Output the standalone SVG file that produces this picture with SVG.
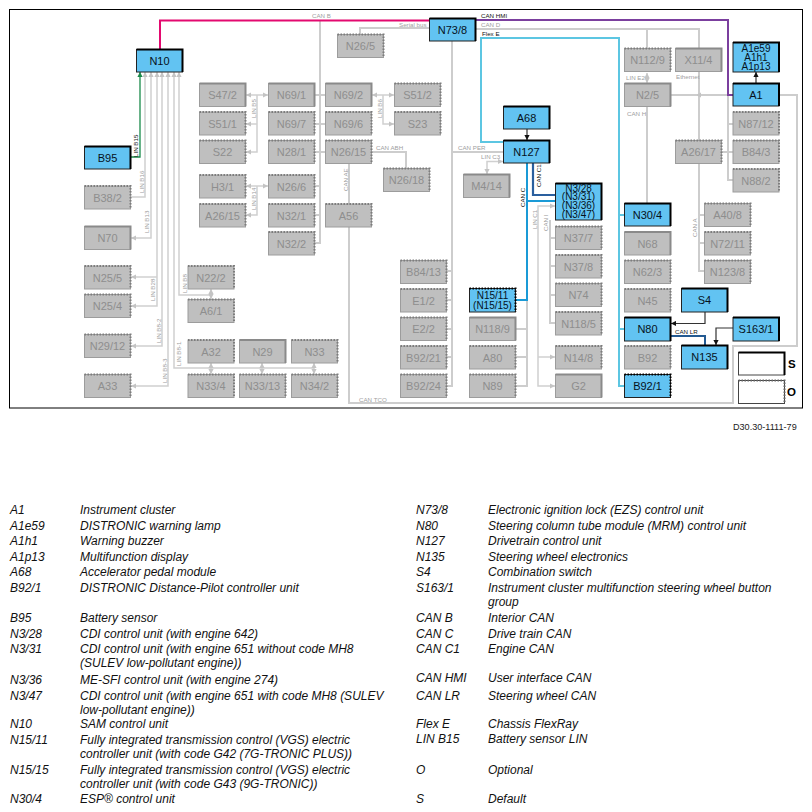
<svg xmlns="http://www.w3.org/2000/svg" width="812" height="812" viewBox="0 0 812 812">
<style>
text{font-family:"Liberation Sans",Arial,sans-serif}
.g rect{fill:#bfbfbf;stroke:#9c9c9c;stroke-width:1}
.g text{fill:#8e8e8e;font-size:11px;text-anchor:middle}
.g path{fill:none;stroke:#8a8a8a;stroke-width:2}
.d path{stroke-dasharray:1.5 1.5;stroke:#7d7d7d}
.b rect{fill:#62c3f2;stroke:#222;stroke-width:1}
.b text{fill:#06121c;font-size:11px;text-anchor:middle}
.b path{fill:none;stroke:#000;stroke-width:2}
.b.d path{stroke-dasharray:1.5 1.5;stroke:#000}
.b text.s{font-size:10px}
.l{font-size:6.2px;fill:#a0a0a0}
.k{font-size:6.2px;fill:#111}
.c{fill:none;stroke:#cdcdcd;stroke-width:2}
.t{fill:none;stroke:#d0d0d0;stroke-width:1.500}
.a{fill:none;stroke:#333;stroke-width:1.200}
.leg{font-size:12px;font-style:italic;fill:#111}
</style>
<defs>
<marker id="ga" markerUnits="userSpaceOnUse" markerWidth="6" markerHeight="6" refX="5" refY="3" orient="auto-start-reverse"><path d="M0 .4L5 3L0 5.6z" fill="#c4c4c4"/></marker>
<marker id="ka" markerUnits="userSpaceOnUse" markerWidth="6" markerHeight="6" refX="5" refY="3" orient="auto-start-reverse"><path d="M0 .4L5 3L0 5.6z" fill="#111"/></marker>
<marker id="gr" markerUnits="userSpaceOnUse" markerWidth="6" markerHeight="6" refX="5" refY="3" orient="auto-start-reverse"><path d="M0 .4L5 3L0 5.6z" fill="#1a8a4a"/></marker>
</defs>
<rect x="9.500" y="9.500" width="793" height="398.500" fill="#fff" stroke="#000" stroke-width="1"/>
<g id="connectors">
<path class="c" d="M320 20V243H315M315 95H325M315 124H325M315 152H325M315 186H320M315 215H320"/>
<path class="c" d="M429 28H360V34"/>
<path class="c" d="M475 29H699V140M647 29V48"/>
<path class="c" d="M699 164V271H704M699 215H704M699 243H704"/>
<path class="c" d="M647 107V203"/>
<path class="c" d="M728 95V180H733M728 124H733M722 152H733"/>
<path class="c" d="M779 95H797V346H733V403H349V227"/>
<path class="c" d="M349 164V204"/>
<path class="c" d="M372 152H406V168"/>
<path class="c" d="M452 41V386H447M447 271H452M447 300H452M447 329H452M447 357H452M452 152H503"/>
<path class="c" d="M527 300V386H516M516 329H527M516 357H527"/>
<path class="c" d="M550 220V323H555M550 238H555M550 266H555M550 295H555"/>
<path class="c" d="M671 95H733"/>
<path class="t" d="M696 95H697" marker-start="url(#ga)"/>
<path class="t" d="M503 161.500H487V174" marker-start="url(#ga)" marker-end="url(#ga)"/>
<path class="t" d="M555 206H538V386H555" marker-start="url(#ga)" marker-end="url(#ga)"/>
<path class="t" d="M538 357H555" marker-end="url(#ga)"/>
<path class="t" d="M647 73V83" marker-start="url(#ga)" marker-end="url(#ga)"/>
<path class="t" d="M145 72V197H131" marker-start="url(#ga)"/>
<path class="t" d="M151 72V238H131" marker-start="url(#ga)" marker-end="url(#ga)"/>
<path class="t" d="M157 72V306H131" marker-start="url(#ga)" marker-end="url(#ga)"/>
<path class="t" d="M157 277H131" marker-end="url(#ga)"/>
<path class="t" d="M162 72V346H131" marker-start="url(#ga)" marker-end="url(#ga)"/>
<path class="t" d="M168 72V386H131" marker-start="url(#ga)" marker-end="url(#ga)"/>
<path class="t" d="M174 72V368H314" marker-start="url(#ga)"/>
<path class="t" d="M179 72V295H211" marker-start="url(#ga)"/>
<path class="t" d="M211 289V299" marker-start="url(#ga)" marker-end="url(#ga)"/>
<path class="t" d="M211 363V374" marker-start="url(#ga)" marker-end="url(#ga)"/>
<path class="t" d="M262 363V374" marker-start="url(#ga)" marker-end="url(#ga)"/>
<path class="t" d="M314 363V374" marker-start="url(#ga)" marker-end="url(#ga)"/>
<path class="t" d="M246 95H268" marker-start="url(#ga)" marker-end="url(#ga)"/>
<path class="t" d="M257 95V152H246" marker-end="url(#ga)"/>
<path class="t" d="M257 124H246" marker-end="url(#ga)"/>
<path class="t" d="M246 186H268" marker-start="url(#ga)" marker-end="url(#ga)"/>
<path class="t" d="M257 186V215H246" marker-end="url(#ga)"/>
<path class="t" d="M372 95H394" marker-start="url(#ga)" marker-end="url(#ga)"/>
<path class="t" d="M383 95V124H394" marker-end="url(#ga)"/>
<path d="M160 49V20.500H429" fill="none" stroke="#e3096f" stroke-width="2"/>
<path d="M475 20H728V95H733" fill="none" stroke="#7b3f9e" stroke-width="2"/>
<path d="M503 142H481V38H619V386H624M619 215H624M619 329H624" fill="none" stroke="#5cc6e2" stroke-width="2"/>
<path d="M527 163V300H516M527 201H555" fill="none" stroke="#1a9ad6" stroke-width="2"/>
<path d="M533 163V195H555" fill="none" stroke="#2a5f9e" stroke-width="2.200"/>
<path d="M671 336H705V345" fill="none" stroke="#235a92" stroke-width="2"/>
<path d="M131 157H140V72" fill="none" stroke="#1a8a4a" stroke-width="1.300" marker-end="url(#gr)"/>
<path class="a" d="M705 312V323.500H671" marker-end="url(#ka)"/>
<path class="a" d="M733 328H716V345" marker-end="url(#ka)"/>
<path class="a" d="M756 83V72" marker-end="url(#ka)"/>
<path class="a" d="M527 129V140" marker-end="url(#ka)"/>
</g>
<g id="connector-labels">
<text class="l" x="312" y="18">CAN B</text>
<text class="l" x="399" y="27">Serial bus</text>
<text class="k" x="481" y="18">CAN HMI</text>
<text class="l" x="481" y="27">CAN D</text>
<text class="k" x="482" y="36">Flex E</text>
<text class="l" x="376" y="149.500">CAN ABH</text>
<text class="l" x="458" y="150">CAN PER</text>
<text class="l" x="481" y="159">LIN C3</text>
<text class="l" x="626" y="79.500">LIN E2</text>
<text class="l" x="627" y="115.500">CAN H</text>
<text class="l" x="676" y="79">Ethernet</text>
<text class="l" x="359" y="401.500">CAN TCO</text>
<text class="k" x="675" y="334">CAN LR</text>
<text class="k" transform="translate(137.500 157) rotate(-90)">LIN B15</text>
<text class="l" transform="translate(143.500 193) rotate(-90)">LIN B16</text>
<text class="l" transform="translate(149 233) rotate(-90)">LIN B13</text>
<text class="l" transform="translate(155 301) rotate(-90)">LIN B28</text>
<text class="l" transform="translate(160.500 343) rotate(-90)">LIN B8-2</text>
<text class="l" transform="translate(166.500 383) rotate(-90)">LIN B8-3</text>
<text class="l" transform="translate(181 366) rotate(-90)">LIN B8-1</text>
<text class="l" transform="translate(186.500 293) rotate(-90)">LIN B8</text>
<text class="l" transform="translate(255.500 118) rotate(-90)">LIN B5</text>
<text class="l" transform="translate(255.500 210) rotate(-90)">LIN B14</text>
<text class="l" transform="translate(381.500 118) rotate(-90)">LIN B6</text>
<text class="l" transform="translate(347.500 191) rotate(-90)">CAN AE</text>
<text class="k" transform="translate(525 207) rotate(-90)">CAN C</text>
<text class="k" transform="translate(540.500 187) rotate(-90)">CAN C1</text>
<text class="l" transform="translate(537 229) rotate(-90)">LIN C1</text>
<text class="l" transform="translate(548 231) rotate(-90)">CAN I</text>
<text class="l" transform="translate(697 237) rotate(-90)">CAN A</text>
</g>
<g id="N10" class="b"><rect x="136.500" y="49.500" width="46" height="22.500"/><path d="M136.500 49.500H182.500V72"/><text x="159.500" y="65">N10</text></g>
<g id="N73-8" class="b"><rect x="429.500" y="18.500" width="46" height="22.500"/><path d="M429.500 18.500H475.500V41"/><text x="452.500" y="34">N73/8</text></g>
<g id="B95" class="b"><rect x="84.500" y="146.500" width="46" height="22.500"/><path d="M84.500 146.500H130.500V169"/><text x="107.500" y="162">B95</text></g>
<g id="A68" class="b"><rect x="503.500" y="106.500" width="46" height="22.500"/><path d="M503.500 106.500H549.500V129"/><text x="526.500" y="122">A68</text></g>
<g id="N127" class="b"><rect x="503.500" y="140.500" width="46" height="22.500"/><path d="M503.500 140.500H549.500V163"/><text x="526.500" y="156">N127</text></g>
<g id="A1e59" class="b"><rect x="733" y="42.500" width="46" height="29.500"/><path d="M733 42.500H779V72"/><text class="s" x="756" y="51.500">A1e59</text><text class="s" x="756" y="60.500">A1h1</text><text class="s" x="756" y="69.500">A1p13</text></g>
<g id="A1" class="b"><rect x="733" y="83.500" width="46" height="22.500"/><path d="M733 83.500H779V106"/><text x="756" y="99">A1</text></g>
<g id="N3-28" class="b"><rect x="555.500" y="183.500" width="46" height="36.500"/><path d="M555.500 183.500H601.500V220"/><text class="s" x="578.500" y="191.500">N3/28</text><text class="s" x="578.500" y="200.200">(N3/31)</text><text class="s" x="578.500" y="208.900">(N3/36)</text><text class="s" x="578.500" y="217.600">(N3/47)</text></g>
<g id="N15-11" class="b d"><rect x="469.500" y="288.500" width="46" height="23.500"/><path d="M469.500 288.500H515.500V312"/><text class="s" x="492.500" y="299">N15/11</text><text class="s" x="492.500" y="309">(N15/15)</text></g>
<g id="N30-4" class="b"><rect x="624.500" y="203.500" width="46" height="22.500"/><path d="M624.500 203.500H670.500V226"/><text x="647.500" y="219">N30/4</text></g>
<g id="N80" class="b"><rect x="624.500" y="317.500" width="46" height="23.500"/><path d="M624.500 317.500H670.500V341"/><text x="647.500" y="333">N80</text></g>
<g id="B92-1" class="b d"><rect x="624.500" y="374.500" width="46" height="23"/><path d="M624.500 374.500H670.500V397.500"/><text x="647.500" y="390">B92/1</text></g>
<g id="S4" class="b"><rect x="681.500" y="288.500" width="46" height="23.500"/><path d="M681.500 288.500H727.500V312"/><text x="704.500" y="304">S4</text></g>
<g id="S163-1" class="b"><rect x="733" y="317.500" width="46" height="23.500"/><path d="M733 317.500H779V341"/><text x="756" y="333">S163/1</text></g>
<g id="N135" class="b"><rect x="681.500" y="345.500" width="46" height="23.500"/><path d="M681.500 345.500H727.500V369"/><text x="704.500" y="361">N135</text></g>
<g id="S47-2" class="g"><rect x="199.500" y="83.500" width="46" height="23"/><path d="M199.500 83.500H245.500V106.500"/><text x="222.500" y="99">S47/2</text></g>
<g id="S51-1" class="g d"><rect x="199.500" y="112" width="46" height="23"/><path d="M199.500 112H245.500V135"/><text x="222.500" y="127.500">S51/1</text></g>
<g id="S22" class="g d"><rect x="199.500" y="140.500" width="46" height="23"/><path d="M199.500 140.500H245.500V163.500"/><text x="222.500" y="156">S22</text></g>
<g id="H3-1" class="g d"><rect x="199.500" y="175" width="46" height="23"/><path d="M199.500 175H245.500V198"/><text x="222.500" y="190.500">H3/1</text></g>
<g id="A26-15" class="g d"><rect x="199.500" y="204" width="46" height="23"/><path d="M199.500 204H245.500V227"/><text x="222.500" y="219.500">A26/15</text></g>
<g id="N69-1" class="g"><rect x="268.500" y="83.500" width="46" height="23"/><path d="M268.500 83.500H314.500V106.500"/><text x="291.500" y="99">N69/1</text></g>
<g id="N69-7" class="g d"><rect x="268.500" y="112" width="46" height="23"/><path d="M268.500 112H314.500V135"/><text x="291.500" y="127.500">N69/7</text></g>
<g id="N28-1" class="g d"><rect x="268.500" y="140.500" width="46" height="23"/><path d="M268.500 140.500H314.500V163.500"/><text x="291.500" y="156">N28/1</text></g>
<g id="N26-6" class="g d"><rect x="268.500" y="175" width="46" height="23"/><path d="M268.500 175H314.500V198"/><text x="291.500" y="190.500">N26/6</text></g>
<g id="N32-1" class="g d"><rect x="268.500" y="204" width="46" height="23"/><path d="M268.500 204H314.500V227"/><text x="291.500" y="219.500">N32/1</text></g>
<g id="N32-2" class="g d"><rect x="268.500" y="232" width="46" height="23"/><path d="M268.500 232H314.500V255"/><text x="291.500" y="247.500">N32/2</text></g>
<g id="N69-2" class="g"><rect x="325.500" y="83.500" width="46" height="23"/><path d="M325.500 83.500H371.500V106.500"/><text x="348.500" y="99">N69/2</text></g>
<g id="N69-6" class="g d"><rect x="325.500" y="112" width="46" height="23"/><path d="M325.500 112H371.500V135"/><text x="348.500" y="127.500">N69/6</text></g>
<g id="N26-15" class="g d"><rect x="325.500" y="140.500" width="46" height="23"/><path d="M325.500 140.500H371.500V163.500"/><text x="348.500" y="156">N26/15</text></g>
<g id="A56" class="g d"><rect x="325.500" y="204" width="46" height="23"/><path d="M325.500 204H371.500V227"/><text x="348.500" y="219.500">A56</text></g>
<g id="S51-2" class="g d"><rect x="394.500" y="83.500" width="46" height="23"/><path d="M394.500 83.500H440.500V106.500"/><text x="417.500" y="99">S51/2</text></g>
<g id="S23" class="g d"><rect x="394.500" y="112" width="46" height="23"/><path d="M394.500 112H440.500V135"/><text x="417.500" y="127.500">S23</text></g>
<g id="N26-18" class="g d"><rect x="383.500" y="168.500" width="46" height="23"/><path d="M383.500 168.500H429.500V191.500"/><text x="406.500" y="184">N26/18</text></g>
<g id="N26-5" class="g d"><rect x="337.500" y="34.500" width="46" height="23"/><path d="M337.500 34.500H383.500V57.500"/><text x="360.500" y="50">N26/5</text></g>
<g id="M4-14" class="g"><rect x="463.500" y="174.500" width="46" height="23"/><path d="M463.500 174.500H509.500V197.500"/><text x="486.500" y="190">M4/14</text></g>
<g id="B38-2" class="g d"><rect x="84.500" y="186" width="46" height="23"/><path d="M84.500 186H130.500V209"/><text x="107.500" y="201.500">B38/2</text></g>
<g id="N70" class="g"><rect x="84.500" y="226.500" width="46" height="23"/><path d="M84.500 226.500H130.500V249.500"/><text x="107.500" y="242">N70</text></g>
<g id="N25-5" class="g d"><rect x="84.500" y="266" width="46" height="23"/><path d="M84.500 266H130.500V289"/><text x="107.500" y="281.500">N25/5</text></g>
<g id="N25-4" class="g d"><rect x="84.500" y="294.500" width="46" height="23"/><path d="M84.500 294.500H130.500V317.500"/><text x="107.500" y="310">N25/4</text></g>
<g id="N29-12" class="g d"><rect x="84.500" y="334.500" width="46" height="23"/><path d="M84.500 334.500H130.500V357.500"/><text x="107.500" y="350">N29/12</text></g>
<g id="A33" class="g d"><rect x="84.500" y="374.500" width="46" height="23"/><path d="M84.500 374.500H130.500V397.500"/><text x="107.500" y="390">A33</text></g>
<g id="N22-2" class="g d"><rect x="188" y="266" width="46" height="23"/><path d="M188 266H234V289"/><text x="211" y="281.500">N22/2</text></g>
<g id="A6-1" class="g d"><rect x="188" y="299.500" width="46" height="23"/><path d="M188 299.500H234V322.500"/><text x="211" y="315">A6/1</text></g>
<g id="A32" class="g d"><rect x="188" y="340" width="46" height="23"/><path d="M188 340H234V363"/><text x="211" y="355.500">A32</text></g>
<g id="N29" class="g"><rect x="239.500" y="340" width="46" height="23"/><path d="M239.500 340H285.500V363"/><text x="262.500" y="355.500">N29</text></g>
<g id="N33" class="g d"><rect x="291.500" y="340" width="46" height="23"/><path d="M291.500 340H337.500V363"/><text x="314.500" y="355.500">N33</text></g>
<g id="N33-4" class="g d"><rect x="188" y="374.500" width="46" height="23"/><path d="M188 374.500H234V397.500"/><text x="211" y="390">N33/4</text></g>
<g id="N33-13" class="g d"><rect x="239.500" y="374.500" width="46" height="23"/><path d="M239.500 374.500H285.500V397.500"/><text x="262.500" y="390">N33/13</text></g>
<g id="N34-2" class="g d"><rect x="291.500" y="374.500" width="46" height="23"/><path d="M291.500 374.500H337.500V397.500"/><text x="314.500" y="390">N34/2</text></g>
<g id="B84-13" class="g d"><rect x="400.500" y="260.500" width="46" height="23"/><path d="M400.500 260.500H446.500V283.500"/><text x="423.500" y="276">B84/13</text></g>
<g id="E1-2" class="g d"><rect x="400.500" y="289" width="46" height="23"/><path d="M400.500 289H446.500V312"/><text x="423.500" y="304.500">E1/2</text></g>
<g id="E2-2" class="g d"><rect x="400.500" y="317.500" width="46" height="23"/><path d="M400.500 317.500H446.500V340.500"/><text x="423.500" y="333">E2/2</text></g>
<g id="B92-21" class="g d"><rect x="400.500" y="346" width="46" height="23"/><path d="M400.500 346H446.500V369"/><text x="423.500" y="361.500">B92/21</text></g>
<g id="B92-24" class="g d"><rect x="400.500" y="374.500" width="46" height="23"/><path d="M400.500 374.500H446.500V397.500"/><text x="423.500" y="390">B92/24</text></g>
<g id="N118-9" class="g"><rect x="469.500" y="317.500" width="46" height="23"/><path d="M469.500 317.500H515.500V340.500"/><text x="492.500" y="333">N118/9</text></g>
<g id="A80" class="g d"><rect x="469.500" y="346" width="46" height="23"/><path d="M469.500 346H515.500V369"/><text x="492.500" y="361.500">A80</text></g>
<g id="N89" class="g d"><rect x="469.500" y="374.500" width="46" height="23"/><path d="M469.500 374.500H515.500V397.500"/><text x="492.500" y="390">N89</text></g>
<g id="N37-7" class="g d"><rect x="555.500" y="226.500" width="46" height="23"/><path d="M555.500 226.500H601.500V249.500"/><text x="578.500" y="242">N37/7</text></g>
<g id="N37-8" class="g d"><rect x="555.500" y="255" width="46" height="23"/><path d="M555.500 255H601.500V278"/><text x="578.500" y="270.500">N37/8</text></g>
<g id="N74" class="g d"><rect x="555.500" y="283.500" width="46" height="23"/><path d="M555.500 283.500H601.500V306.500"/><text x="578.500" y="299">N74</text></g>
<g id="N118-5" class="g d"><rect x="555.500" y="312" width="46" height="23"/><path d="M555.500 312H601.500V335"/><text x="578.500" y="327.500">N118/5</text></g>
<g id="N14-8" class="g d"><rect x="555.500" y="346" width="46" height="23"/><path d="M555.500 346H601.500V369"/><text x="578.500" y="361.500">N14/8</text></g>
<g id="G2" class="g"><rect x="555.500" y="374.500" width="46" height="23"/><path d="M555.500 374.500H601.500V397.500"/><text x="578.500" y="390">G2</text></g>
<g id="N112-9" class="g d"><rect x="624.500" y="48.500" width="46" height="23"/><path d="M624.500 48.500H670.500V71.500"/><text x="647.500" y="64">N112/9</text></g>
<g id="X11-4" class="g"><rect x="675.500" y="48.500" width="46" height="23"/><path d="M675.500 48.500H721.500V71.500"/><text x="698.500" y="64">X11/4</text></g>
<g id="N2-5" class="g"><rect x="624.500" y="83.500" width="46" height="23"/><path d="M624.500 83.500H670.500V106.500"/><text x="647.500" y="99">N2/5</text></g>
<g id="A26-17" class="g d"><rect x="675.500" y="140.500" width="46" height="23"/><path d="M675.500 140.500H721.500V163.500"/><text x="698.500" y="156">A26/17</text></g>
<g id="N87-12" class="g d"><rect x="733" y="112" width="46" height="23"/><path d="M733 112H779V135"/><text x="756" y="127.500">N87/12</text></g>
<g id="B84-3" class="g d"><rect x="733" y="140.500" width="46" height="23"/><path d="M733 140.500H779V163.500"/><text x="756" y="156">B84/3</text></g>
<g id="N88-2" class="g d"><rect x="733" y="169" width="46" height="23"/><path d="M733 169H779V192"/><text x="756" y="184.500">N88/2</text></g>
<g id="A40-8" class="g d"><rect x="704.500" y="203.500" width="46" height="23"/><path d="M704.500 203.500H750.500V226.500"/><text x="727.500" y="219">A40/8</text></g>
<g id="N72-11" class="g d"><rect x="704.500" y="232" width="46" height="23"/><path d="M704.500 232H750.500V255"/><text x="727.500" y="247.500">N72/11</text></g>
<g id="N123-8" class="g d"><rect x="704.500" y="260.500" width="46" height="23"/><path d="M704.500 260.500H750.500V283.500"/><text x="727.500" y="276">N123/8</text></g>
<g id="N68" class="g"><rect x="624.500" y="232" width="46" height="23"/><path d="M624.500 232H670.500V255"/><text x="647.500" y="247.500">N68</text></g>
<g id="N62-3" class="g d"><rect x="624.500" y="260.500" width="46" height="23"/><path d="M624.500 260.500H670.500V283.500"/><text x="647.500" y="276">N62/3</text></g>
<g id="N45" class="g d"><rect x="624.500" y="289" width="46" height="23"/><path d="M624.500 289H670.500V312"/><text x="647.500" y="304.500">N45</text></g>
<g id="B92" class="g d"><rect x="624.500" y="346" width="46" height="23"/><path d="M624.500 346H670.500V369"/><text x="647.500" y="361.500">B92</text></g>
<g id="key">
<rect x="738.500" y="352.500" width="46" height="22.500" fill="#fff" stroke="#444" stroke-width="1"/><path d="M738.500 352.500H784.500V375" fill="none" stroke="#000" stroke-width="2"/>
<text x="788" y="368" font-size="11.500" font-weight="bold" fill="#000">S</text>
<rect x="738.500" y="380.500" width="46" height="23" fill="#fff" stroke="#444" stroke-width="1"/><path d="M738.500 380.500H784.500V403.500" fill="none" stroke="#666" stroke-width="2" stroke-dasharray="1.500 1.500"/>
<text x="787" y="395.500" font-size="11.500" font-weight="bold" fill="#000">O</text>
</g>
<text x="733" y="429.500" font-size="9.100" fill="#222">D30.30-1111-79</text>
<g id="legend">
<text class="leg" x="10" y="514">A1</text><text class="leg" x="80" y="514">Instrument cluster</text>
<text class="leg" x="10" y="529.500">A1e59</text><text class="leg" x="80" y="529.500">DISTRONIC warning lamp</text>
<text class="leg" x="10" y="545">A1h1</text><text class="leg" x="80" y="545">Warning buzzer</text>
<text class="leg" x="10" y="560.500">A1p13</text><text class="leg" x="80" y="560.500">Multifunction display</text>
<text class="leg" x="10" y="576">A68</text><text class="leg" x="80" y="576">Accelerator pedal module</text>
<text class="leg" x="10" y="591.500">B92/1</text><text class="leg" x="80" y="591.500">DISTRONIC Distance-Pilot controller unit</text>
<text class="leg" x="10" y="622">B95</text><text class="leg" x="80" y="622">Battery sensor</text>
<text class="leg" x="10" y="637.500">N3/28</text><text class="leg" x="80" y="637.500">CDI control unit (with engine 642)</text>
<text class="leg" x="10" y="653">N3/31</text><text class="leg" x="80" y="653">CDI control unit (with engine 651 without code MH8</text>
<text class="leg" x="80" y="667">(SULEV low-pollutant engine))</text>
<text class="leg" x="10" y="684">N3/36</text><text class="leg" x="80" y="684">ME-SFI control unit (with engine 274)</text>
<text class="leg" x="10" y="699.500">N3/47</text><text class="leg" x="80" y="699.500">CDI control unit (with engine 651 with code MH8 (SULEV</text>
<text class="leg" x="80" y="713.500">low-pollutant engine))</text>
<text class="leg" x="10" y="728">N10</text><text class="leg" x="80" y="728">SAM control unit</text>
<text class="leg" x="10" y="743.500">N15/11</text><text class="leg" x="80" y="743.500">Fully integrated transmission control (VGS) electric</text>
<text class="leg" x="80" y="757.500">controller unit (with code G42 (7G-TRONIC PLUS))</text>
<text class="leg" x="10" y="774">N15/15</text><text class="leg" x="80" y="774">Fully integrated transmission control (VGS) electric</text>
<text class="leg" x="80" y="788">controller unit (with code G43 (9G-TRONIC))</text>
<text class="leg" x="10" y="803">N30/4</text><text class="leg" x="80" y="803">ESP® control unit</text>
<text class="leg" x="416" y="514">N73/8</text><text class="leg" x="488" y="514">Electronic ignition lock (EZS) control unit</text>
<text class="leg" x="416" y="529.500">N80</text><text class="leg" x="488" y="529.500">Steering column tube module (MRM) control unit</text>
<text class="leg" x="416" y="545">N127</text><text class="leg" x="488" y="545">Drivetrain control unit</text>
<text class="leg" x="416" y="560.500">N135</text><text class="leg" x="488" y="560.500">Steering wheel electronics</text>
<text class="leg" x="416" y="576">S4</text><text class="leg" x="488" y="576">Combination switch</text>
<text class="leg" x="416" y="591.500">S163/1</text><text class="leg" x="488" y="591.500">Instrument cluster multifunction steering wheel button</text>
<text class="leg" x="488" y="605.500">group</text>
<text class="leg" x="416" y="622">CAN B</text><text class="leg" x="488" y="622">Interior CAN</text>
<text class="leg" x="416" y="637.500">CAN C</text><text class="leg" x="488" y="637.500">Drive train CAN</text>
<text class="leg" x="416" y="653">CAN C1</text><text class="leg" x="488" y="653">Engine CAN</text>
<text class="leg" x="416" y="682">CAN HMI</text><text class="leg" x="488" y="682">User interface CAN</text>
<text class="leg" x="416" y="699.500">CAN LR</text><text class="leg" x="488" y="699.500">Steering wheel CAN</text>
<text class="leg" x="416" y="728">Flex E</text><text class="leg" x="488" y="728">Chassis FlexRay</text>
<text class="leg" x="416" y="743">LIN B15</text><text class="leg" x="488" y="743">Battery sensor LIN</text>
<text class="leg" x="416" y="773.500">O</text><text class="leg" x="488" y="773.500">Optional</text>
<text class="leg" x="416" y="803">S</text><text class="leg" x="488" y="803">Default</text>
</g>
</svg>
